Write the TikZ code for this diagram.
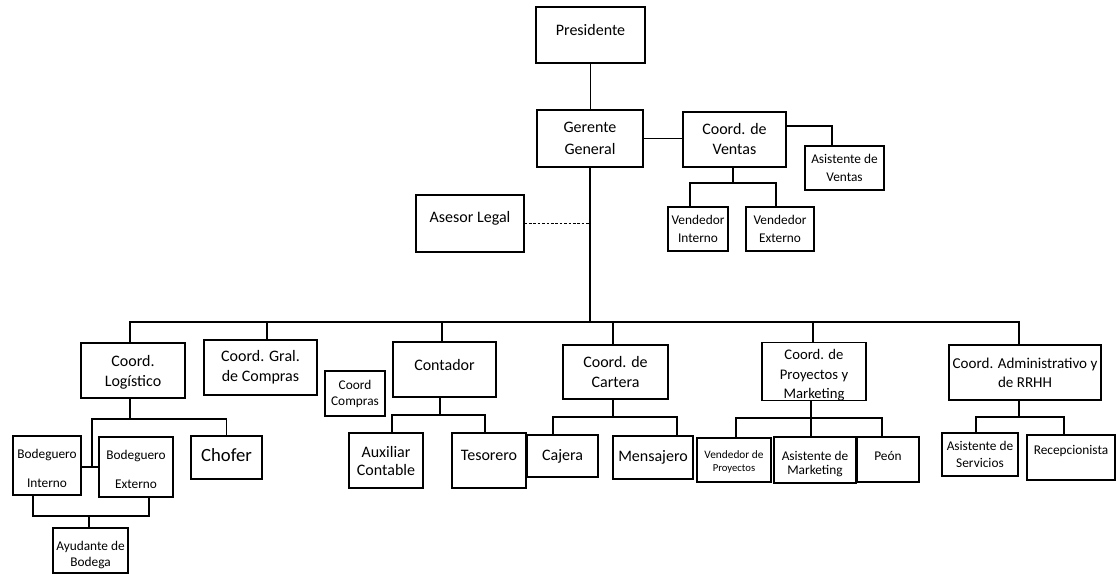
\documentclass[tikz,border=0pt]{standalone}
\usepackage{fontspec}
\setmainfont{Carlito}
\usetikzlibrary{calc}
% shift text inside a box without changing the box size
\newcommand\liftby[2]{\raisebox{#1}[\height][\depth]{#2}}
% several centred lines, shifted as one block
\newcommand\liftlines[2]{\raisebox{#1}[\height][\depth]{\begin{tabular}{@{}c@{}}#2\end{tabular}}}
\begin{document}
\begin{tikzpicture}[x=0.75pt,y=-0.75pt,
  sz/.style 2 args={minimum width={#1*0.75pt}, minimum height={#2*0.75pt}},
  box/.style={draw, line width=0.8pt, inner sep=0pt, align=center,
              font=\fontsize{12}{15}\selectfont},
  sbox/.style={box, font=\fontsize{10}{13}\selectfont},
  tbox/.style={box, font=\fontsize{8.5}{10}\selectfont},
  link/.style={line width=0.8pt},
  legalink/.style={line width=0.8pt, dash pattern=on 2pt off 1.3pt},
]
\useasboundingbox (0,0) rectangle (1116,574);

% ---------- top management ----------
\node[box, sz={109}{56}] (pres)  at (590.5,35)   {\liftby{3.5pt}{Presidente}};
\node[box, sz={106}{57}] (ger)   at (590,138.5)  {Gerente\\[1.5pt]General};
\node[box, sz={103}{55}] (cven)  at (734.5,139.5){Coord. de\\Ventas};
\node[sbox, sz={79}{44}] (aven)  at (844.5,168)  {Asistente de\\[0.5pt]Ventas};
\node[sbox, sz={60}{44}] (vint)  at (698,229)    {Vendedor\\[0.5pt]Interno};
\node[sbox, sz={68}{44}] (vext)  at (780,229)    {Vendedor\\[0.5pt]Externo};
\node[box, sz={108}{57}] (legal) at (470,223.5)  {\liftby{4pt}{Asesor Legal}};

% ---------- coordinators ----------
\node[box, sz={104}{55}] (clog)  at (133,370.5)  {\liftlines{-1.5pt}{Coord.\\Logístico}};
\node[box, sz={113}{55}] (cgc)   at (260.5,367.5){Coord. Gral.\\de Compras};
\node[sbox, sz={60}{45}] (ccomp) at (355,393.5)  {Coord\\[-1pt]Compras};
\node[box, sz={103}{55}] (cont)  at (444.5,369.5){\liftby{3pt}{Contador}};
\node[box, sz={105}{54}] (ccar)  at (615.5,372)  {Coord. de\\Cartera};
\node[box, sz={104}{57}, font=\fontsize{11}{14.6}\selectfont]
                         (cproy) at (814,371.5)  {\liftlines{-3pt}{Coord. de\\Proyectos y\\Marketing}};
\node[box, sz={152}{55}, font=\fontsize{11.3}{14.3}\selectfont]
                         (cadm)  at (1025,372.5) {Coord. Administrativo y\\de RRHH};

% ---------- staff ----------
\node[sbox, sz={68}{59}] (bint)  at (47,465.5)   {\liftlines{-3pt}{Bodeguero\\[9pt]Interno}};
\node[sbox, sz={74}{60}] (bext)  at (136,467)    {\liftlines{-2.5pt}{Bodeguero\\[9pt]Externo}};
\node[box, sz={71}{43}, font=\fontsize{14}{16}\selectfont]
                         (chof)  at (226.5,457.5){\liftby{1.5pt}{Chofer}};
\node[sbox, sz={75}{45}] (ayu)   at (90.5,550.5) {\liftlines{-3.5pt}{Ayudante de\\[-1pt]Bodega}};
\node[box, sz={74}{55}]  (aux)   at (386,460.5)  {Auxiliar\\[-1.5pt]Contable};
\node[box, sz={74}{55}]  (tes)   at (489,460.5)  {\liftby{4pt}{Tesorero}};
\node[box, sz={71}{42}]  (caj)   at (562.5,456)  {Cajera};
\node[box, sz={80}{43}]  (mens)  at (653,457.5)  {Mensajero};
\node[tbox, sz={74}{44}] (vproy) at (734,460)    {\liftlines{-1.5pt}{Vendedor de\\{\fontsize{8}{10}\selectfont Proyectos}}};
\node[sbox, sz={82}{46}] (amkt)  at (815,460)    {\liftlines{-3pt}{Asistente de\\[-2pt]Marketing}};
\node[sbox, sz={62}{45}] (peon)  at (888,459.5)  {\liftby{2.5pt}{Peón}};
\node[sbox, sz={76}{43}] (aserv) at (980,454.5)  {Asistente de\\[-0.5pt]Servicios};
\node[sbox, sz={88}{45}] (recep) at (1071,457.5) {\liftby{5pt}{Recepcionista}};

% ---------- connectors: top ----------
\draw[link] (pres.south) -- (pres.south |- ger.north);
\draw[link] (ger.east) -- (ger.east -| cven.west);

\coordinate (avT) at (832,126);
\draw[link] (cven.east |- avT) -| (aven.north -| avT);

\coordinate (vB) at (733,183);
\coordinate (vL) at (690,183);
\coordinate (vR) at (776,183);
\draw[link] (cven.south -| vB) -- (vB);
\draw[link] (vint.north -| vL) |- (vR) -- (vext.north -| vR);

% main trunk and staff advisor
\coordinate (bus) at (590,322);
\draw[link] (ger.south) -- (ger.south |- bus);
\draw[legalink] (legal.east) -- (legal.east -| ger.south);

% ---------- horizontal bus ----------
\coordinate (busL) at (130,322);
\coordinate (busR) at (1019,322);
\draw[link] (clog.north -| busL) |- (busR) -- (cadm.north -| busR);
\coordinate (d2) at (267,322);
\coordinate (d3) at (442,322);
\coordinate (d4) at (613,322);
\coordinate (d5) at (813,322);
\draw[link] (d2) -- (cgc.north -| d2);
\draw[link] (d3) -- (cont.north -| d3);
\draw[link] (d4) -- (ccar.north -| d4);
\draw[link] (d5) -- (cproy.north -| d5);

% ---------- logistics ----------
\coordinate (lB) at (130,419);
\coordinate (lJ) at (92,467);
\draw[link] (clog.south -| lB) -- (lB);
\draw[link] (lJ) |- (chof.north |- lB) -- (chof.north);
\draw[link] (bint.east |- lJ) -- (bext.west |- lJ);

\coordinate (aL) at (33,502);
\coordinate (aR) at (149,502);
\coordinate (aM) at (89,516);
\draw[link] (bint.south -| aL) |- (aR |- aM) -- (bext.south -| aR);
\draw[link] (aM) -- (ayu.north -| aM);

% ---------- accounting ----------
\coordinate (cB) at (440,415);
\coordinate (cL) at (392,415);
\coordinate (cR) at (485,415);
\draw[link] (cont.south -| cB) -- (cB);
\draw[link] (aux.north -| cL) |- (cR) -- (tes.north -| cR);

% ---------- portfolio ----------
\coordinate (kB) at (613,417);
\coordinate (kL) at (553,417);
\coordinate (kR) at (677,417);
\draw[link] (ccar.south -| kB) -- (kB);
\draw[link] (caj.north -| kL) |- (kR) -- (mens.north -| kR);

% ---------- projects and marketing ----------
\coordinate (pB) at (811,418);
\coordinate (pL) at (736,418);
\coordinate (pR) at (882,418);
\draw[link] (cproy.south -| pB) -- (amkt.north -| pB);
\draw[link] (vproy.north -| pL) |- (pR) -- (peon.north -| pR);

% ---------- administration and HR ----------
\coordinate (mB) at (1019,417);
\coordinate (mL) at (976,417);
\coordinate (mR) at (1064,417);
\draw[link] (cadm.south -| mB) -- (mB);
\draw[link] (aserv.north -| mL) |- (mR) -- (recep.north -| mR);
\end{tikzpicture}
\end{document}
